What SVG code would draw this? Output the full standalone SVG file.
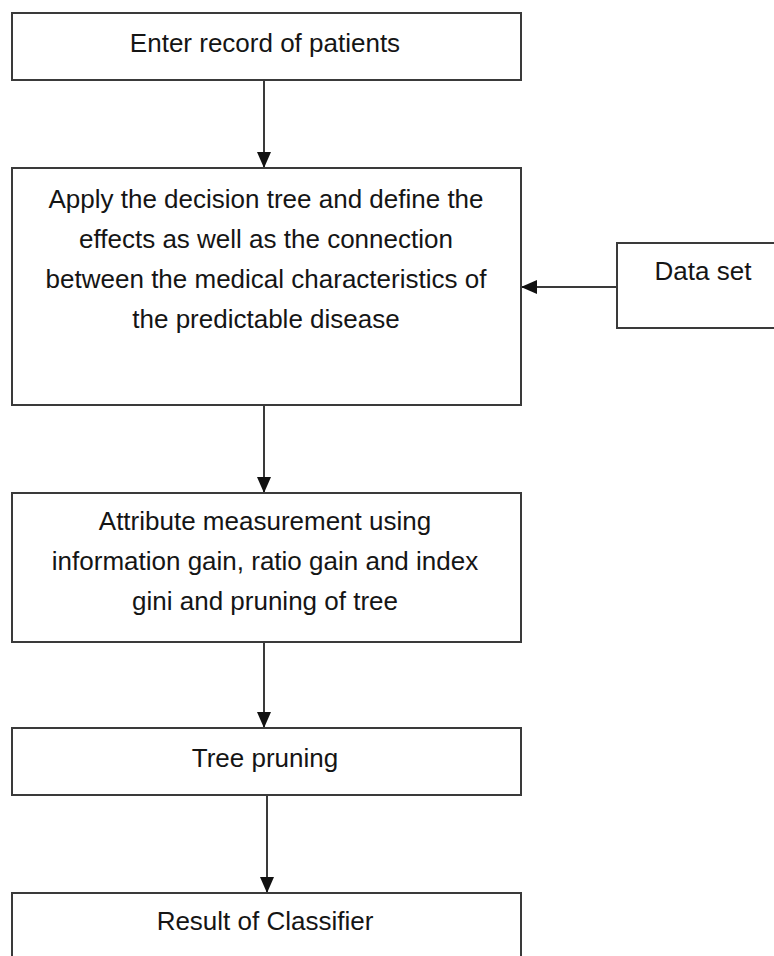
<svg xmlns="http://www.w3.org/2000/svg" width="774" height="956" viewBox="0 0 774 956">
  <style>
    .box { fill: #ffffff; stroke: #3a3a3a; stroke-width: 2; }
    .lbl { font-family: "Liberation Sans", Arial, sans-serif; font-size: 26px; fill: #151515; text-anchor: middle; }
    .conn { stroke: #3a3a3a; stroke-width: 2; fill: none; }
  </style>
  <defs>
    <marker id="arrow" markerUnits="userSpaceOnUse" markerWidth="16" markerHeight="16" viewBox="0 0 16 16" refX="16" refY="8" orient="auto">
      <path d="M0,1 L16,8 L0,15 Z" fill="#111111"/>
    </marker>
  </defs>
  <rect width="774" height="956" fill="#ffffff"/>

  <g id="connectors">
    <line class="conn" x1="264" y1="80" x2="264" y2="168" marker-end="url(#arrow)"/>
    <line class="conn" x1="617" y1="287" x2="521" y2="287" marker-end="url(#arrow)"/>
    <line class="conn" x1="264" y1="405" x2="264" y2="493" marker-end="url(#arrow)"/>
    <line class="conn" x1="264" y1="642" x2="264" y2="728" marker-end="url(#arrow)"/>
    <line class="conn" x1="267" y1="795" x2="267" y2="893" marker-end="url(#arrow)"/>
  </g>

  <g id="node-enter">
    <rect class="box" x="12" y="13" width="509" height="67"/>
    <text class="lbl" x="265" y="52">Enter record of patients</text>
  </g>

  <g id="node-apply">
    <rect class="box" x="12" y="168" width="509" height="237"/>
    <text class="lbl" x="266" y="208">Apply the decision tree and define the</text>
    <text class="lbl" x="266" y="248">effects as well as the connection</text>
    <text class="lbl" x="266" y="288">between the medical characteristics of</text>
    <text class="lbl" x="266" y="328">the predictable disease</text>
  </g>

  <g id="node-dataset">
    <rect class="box" x="617" y="243" width="180" height="85"/>
    <text class="lbl" x="703" y="280">Data set</text>
  </g>

  <g id="node-attribute">
    <rect class="box" x="12" y="493" width="509" height="149"/>
    <text class="lbl" x="265" y="530">Attribute measurement using</text>
    <text class="lbl" x="265" y="570">information gain, ratio gain and index</text>
    <text class="lbl" x="265" y="610">gini and pruning of tree</text>
  </g>

  <g id="node-pruning">
    <rect class="box" x="12" y="728" width="509" height="67"/>
    <text class="lbl" x="265" y="767">Tree pruning</text>
  </g>

  <g id="node-result">
    <rect class="box" x="12" y="893" width="509" height="90"/>
    <text class="lbl" x="265" y="930">Result of Classifier</text>
  </g>
</svg>
